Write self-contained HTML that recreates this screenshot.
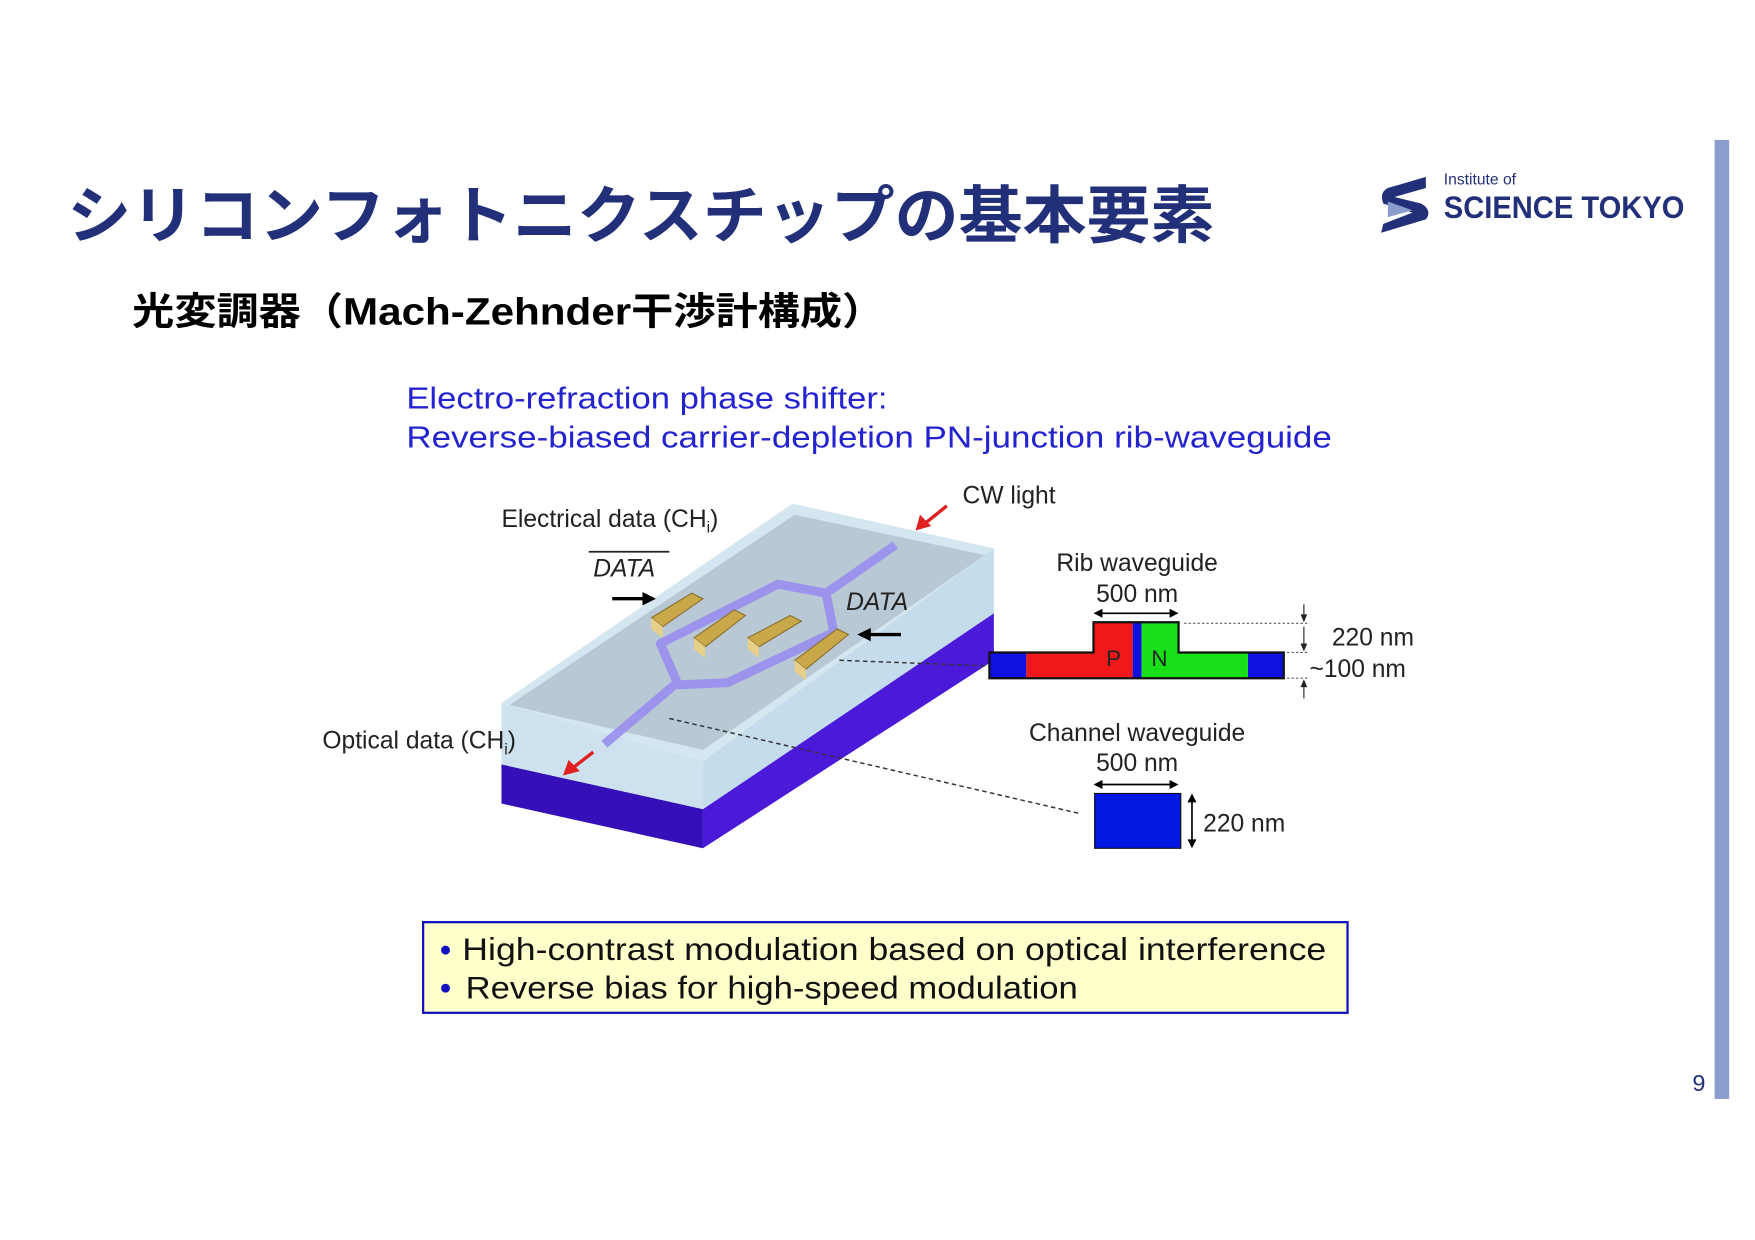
<!DOCTYPE html>
<html><head><meta charset="utf-8"><style>html,body{margin:0;padding:0;background:#fff}svg{display:block}</style></head>
<body>
<svg width="1755" height="1240" viewBox="0 0 1568 1108" xmlns="http://www.w3.org/2000/svg" font-family="Liberation Sans, Noto Sans CJK JP, sans-serif">
<rect width="1568" height="1108" fill="#fff"/>
<!-- right bar -->
<rect x="1532" y="125" width="13" height="857" fill="#8a9dcc"/>
<text x="1518" y="975" font-size="21" fill="#22307a" text-anchor="middle">9</text>
<!-- title -->
<text x="60" y="212" font-size="56" font-weight="bold" fill="#22307a" textLength="1025" lengthAdjust="spacingAndGlyphs">シリコンフォトニクスチップの基本要素</text>
<!-- logo -->
<path d="M1274 158 L1240 168 Q1232 172 1236 182 L1262 190 L1236 200 L1234 208 L1274 196 Q1280 188 1270 182 L1246 176 L1274 168 Z" fill="#22307a"/>
<path d="M1240 180 L1262 188 L1240 194 Z" fill="#8a9dcc"/>
<text x="1290" y="165" font-size="14" fill="#22307a">Institute of</text>
<text x="1290" y="195" font-size="28" font-weight="bold" fill="#22307a" textLength="215" lengthAdjust="spacingAndGlyphs">SCIENCE TOKYO</text>
<!-- subtitle -->
<text x="118" y="290" font-size="34" font-weight="bold" fill="#000" textLength="672" lengthAdjust="spacingAndGlyphs">光変調器（Mach-Zehnder干渉計構成）</text>
<!-- blue text -->
<text x="363" y="365" font-size="27" fill="#2323d0" textLength="430" lengthAdjust="spacingAndGlyphs">Electro-refraction phase shifter:</text>
<text x="363" y="400" font-size="27" fill="#2323d0" textLength="827" lengthAdjust="spacingAndGlyphs">Reverse-biased carrier-depletion PN-junction rib-waveguide</text>

<!-- chip -->
<polygon points="448,683 628,723 628,758 448,718" fill="#3510b8"/>
<polygon points="628,723 888,548 888,590 628,758" fill="#4a1ad8"/>
<polygon points="448,628 628,680 628,723 448,683" fill="#cde2ee"/>
<polygon points="628,680 888,490 888,548 628,723" fill="#c4dcec"/>
<polygon points="448,628 708,450 888,490 628,680" fill="#d4e6f0"/>
<polygon points="455,630 710,460 880,496 628,670" fill="#b8c8d4"/>
<!-- waveguide -->
<g stroke="#9a8ef0" stroke-width="8" fill="none" stroke-linejoin="round" opacity="0.9">
<polyline points="800,487 738,530 695,522 590,575 605,610 540,665"/>
<polyline points="738,530 745,565 650,610 605,612"/>
</g>
<!-- electrodes -->
<g fill="#c9a84a" stroke="#8a7030" stroke-width="1">
<polygon points="582,552 618,530 628,535 592,560"/>
<polygon points="620,570 656,545 666,550 630,578"/>
<polygon points="668,570 706,550 716,555 678,578"/>
<polygon points="710,590 748,562 758,567 720,598"/>
</g>
<g fill="#e6d08a">
<polygon points="582,552 592,560 592,570 582,562"/>
<polygon points="620,570 630,578 630,588 620,580"/>
<polygon points="668,570 678,578 678,588 668,580"/>
<polygon points="710,590 720,598 720,608 710,600"/>
</g>
<!-- labels -->
<text x="448" y="471" font-size="22" fill="#222">Electrical data (CH<tspan font-size="14" dy="5">i</tspan><tspan dy="-5">)</tspan></text>
<text x="860" y="450" font-size="22" fill="#222">CW light</text>
<line x1="846" y1="452" x2="826" y2="468" stroke="#e02020" stroke-width="3"/>
<polygon points="818,474 822,460 832,470" fill="#e02020"/>
<text x="530" y="515" font-size="22" font-style="italic" fill="#222">DATA</text>
<line x1="526" y1="493" x2="598" y2="493" stroke="#222" stroke-width="1.5"/>
<line x1="547" y1="535" x2="576" y2="535" stroke="#000" stroke-width="3"/>
<polygon points="586,535 574,529 574,541" fill="#000"/>
<text x="756" y="545" font-size="22" font-style="italic" fill="#222">DATA</text>
<line x1="805" y1="567" x2="776" y2="567" stroke="#000" stroke-width="3"/>
<polygon points="766,567 778,561 778,573" fill="#000"/>
<text x="288" y="669" font-size="22" fill="#222">Optical data (CH<tspan font-size="14" dy="5">i</tspan><tspan dy="-5">)</tspan></text>
<line x1="530" y1="672" x2="512" y2="686" stroke="#e02020" stroke-width="3"/>
<polygon points="503,693 508,679 518,689" fill="#e02020"/>
<!-- dashed -->
<line x1="750" y1="590" x2="883" y2="595" stroke="#333" stroke-width="1.3" stroke-dasharray="4,3"/>
<line x1="598" y1="642" x2="965" y2="727" stroke="#333" stroke-width="1.3" stroke-dasharray="4,3"/>
<!-- rib -->
<text x="1016" y="510" font-size="22" fill="#222" text-anchor="middle">Rib waveguide</text>
<text x="1016" y="538" font-size="22" fill="#222" text-anchor="middle">500 nm</text>
<line x1="982" y1="548" x2="1048" y2="548" stroke="#000" stroke-width="1.5"/>
<polygon points="977,548 985,544 985,552" fill="#000"/><polygon points="1053,548 1045,544 1045,552" fill="#000"/>
<rect x="884" y="583" width="33" height="23" fill="#1010e0"/>
<rect x="1115" y="583" width="32" height="23" fill="#1010e0"/>
<polygon points="917,583 977,583 977,556 1012,556 1012,606 917,606" fill="#f01818"/>
<rect x="1012" y="556" width="8" height="50" fill="#1010e0"/>
<polygon points="1020,556 1053,556 1053,583 1115,583 1115,606 1020,606" fill="#18e018"/>
<polygon points="884,583 977,583 977,556 1053,556 1053,583 1147,583 1147,606 884,606" fill="none" stroke="#111" stroke-width="2"/>
<text x="995" y="595" font-size="20" fill="#222" text-anchor="middle">P</text>
<text x="1036" y="595" font-size="20" fill="#222" text-anchor="middle">N</text>
<g stroke="#555" stroke-width="1" stroke-dasharray="2,2">
<line x1="1058" y1="557" x2="1170" y2="557"/><line x1="1150" y1="583" x2="1170" y2="583"/><line x1="1150" y1="606" x2="1170" y2="606"/>
</g>
<g stroke="#222" stroke-width="1">
<line x1="1165" y1="540" x2="1165" y2="555"/><line x1="1165" y1="560" x2="1165" y2="581"/><line x1="1165" y1="608" x2="1165" y2="624"/>
</g>
<polygon points="1165,556 1162,549 1168,549" fill="#222"/><polygon points="1165,582 1162,575 1168,575" fill="#222"/><polygon points="1165,607 1162,614 1168,614" fill="#222"/>
<text x="1190" y="577" font-size="22" fill="#222">220 nm</text>
<text x="1170" y="605" font-size="22" fill="#222">~100 nm</text>
<!-- channel -->
<text x="1016" y="662" font-size="22" fill="#222" text-anchor="middle">Channel waveguide</text>
<text x="1016" y="689" font-size="22" fill="#222" text-anchor="middle">500 nm</text>
<line x1="982" y1="701" x2="1048" y2="701" stroke="#000" stroke-width="1.5"/>
<polygon points="977,701 985,697 985,705" fill="#000"/><polygon points="1053,701 1045,697 1045,705" fill="#000"/>
<rect x="978" y="709" width="77" height="49" fill="#0018e0" stroke="#111" stroke-width="1"/>
<line x1="1065" y1="714" x2="1065" y2="753" stroke="#000" stroke-width="1.5"/>
<polygon points="1065,709 1061,717 1069,717" fill="#000"/><polygon points="1065,758 1061,750 1069,750" fill="#000"/>
<text x="1075" y="743" font-size="22" fill="#222">220 nm</text>
<!-- box -->
<rect x="378" y="824" width="826" height="81" fill="#ffffcc" stroke="#1010c0" stroke-width="2"/>
<circle cx="398" cy="849" r="4" fill="#1010c0"/>
<circle cx="398" cy="883" r="4" fill="#1010c0"/>
<text x="413" y="858" font-size="28" fill="#111" textLength="772" lengthAdjust="spacingAndGlyphs">High-contrast modulation based on optical interference</text>
<text x="416" y="892" font-size="28" fill="#111" textLength="547" lengthAdjust="spacingAndGlyphs">Reverse bias for high-speed modulation</text>
</svg>
</body></html>
